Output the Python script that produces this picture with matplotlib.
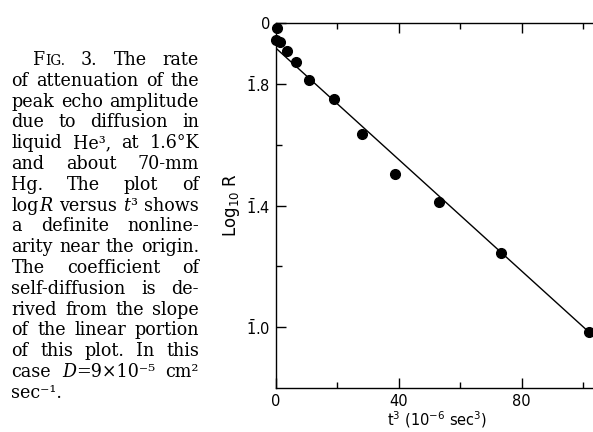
import re
import matplotlib
matplotlib.use("Agg")
import matplotlib.pyplot as plt

# ---------------- data ----------------
t3 = [0.4, 0.0, 1.4, 3.6, 6.6, 10.8, 18.9, 28.0, 38.8, 53.1, 73.2, 102.0]
log_r = [-0.016, -0.057, -0.062, -0.093, -0.129, -0.189, -0.249, -0.366,
         -0.495, -0.589, -0.757, -1.017]
fit_t3 = [0.0, 102.0]
fit_log_r = [-0.082, -1.017]

y_ticks = [0.0, -0.2, -0.6, -1.0]
y_tick_labels = ["0", r"$\bar{1}$.8", r"$\bar{1}$.4", r"$\bar{1}$.0"]
y_minor = [-0.4, -0.8]
x_ticks = [0, 40, 80]
x_tick_labels = ["0", "40", "80"]
x_minor = [20, 60, 100]

x_label = r"t$^3$ (10$^{-6}$ sec$^3$)"
y_label = r"Log$_{10}$ R"

caption = [
    "F{sc:IG.} 3. The rate",
    "of attenuation of the",
    "peak echo amplitude",
    "due to diffusion in",
    "liquid He³, at 1.6°K",
    "and about 70-mm",
    "Hg. The plot of",
    "log{i:R} versus {i:t}³ shows",
    "a definite nonline-",
    "arity near the origin.",
    "The coefficient of",
    "self-diffusion is de-",
    "rived from the slope",
    "of the linear portion",
    "of this plot. In this",
    "case {i:D}=9×10⁻⁵ cm²",
    "sec⁻¹.",
]

# ---------------- figure ----------------
W, H = 593, 432
plt.rcParams["mathtext.default"] = "regular"
plt.rcParams["font.family"] = ["DejaVu Sans"]
fig = plt.figure(figsize=(W / 100, H / 100), dpi=100)

ax_l, ax_r, ax_t, ax_b = 275.7, 596.0, 23.0, 388.0
ax = fig.add_axes([ax_l / W, 1 - ax_b / H, (ax_r - ax_l) / W, (ax_b - ax_t) / H])

ax.plot(fit_t3, fit_log_r, color="black", lw=1.0, zorder=2)
ax.plot(t3, log_r, "o", color="black", ms=7.0, zorder=3, clip_on=False)

ax.set_xlim(0, 104.2)
ax.set_ylim(-1.2, 0.0)
ax.set_xticks(x_ticks)
ax.set_xticklabels(x_tick_labels)
ax.set_xticks(x_minor, minor=True)
ax.set_yticks(y_ticks)
ax.set_yticklabels(y_tick_labels)
ax.set_yticks(y_minor, minor=True)
ax.tick_params(which="both", direction="in", top=True, right=False,
               labelsize=10.5, width=1.0)
ax.tick_params(which="major", length=7.5, pad=4)
ax.tick_params(which="minor", length=4)
for s in ax.spines.values():
    s.set_linewidth(1.0)

ax.set_xlabel(x_label, fontsize=10.5)
ax.xaxis.set_label_coords((437 - ax_l) / (ax_r - ax_l), (ax_b - 420) / (ax_b - ax_t))
ax.xaxis.label.set_va("center")
ax.set_ylabel(y_label, fontsize=12)
ax.yaxis.set_label_coords((231 - ax_l) / (ax_r - ax_l), 0.5)
ax.yaxis.label.set_va("center")

# ---------------- justified caption ----------------
serif = ["DejaVu Serif", "DejaVu Sans"]
x_left, x_right, x_indent = 11.5, 199.0, 33.0
y0, dy = 65.0, 20.8
renderer = fig.canvas.get_renderer()

pat = re.compile(r"\{(sc|i):([^}]*)\}")


def parse_word(word):
    segs, pos = [], 0
    for m in pat.finditer(word):
        if m.start() > pos:
            segs.append((word[pos:m.start()], ""))
        segs.append((m.group(2), m.group(1)))
        pos = m.end()
    if pos < len(word):
        segs.append((word[pos:], ""))
    return segs


def make_seg(text, kind, size):
    kw = dict(family=serif, fontsize=size, va="baseline", ha="left")
    if kind == "sc":
        kw["fontsize"] = size * 0.78
    if kind == "i":
        kw["style"] = "italic"
    return fig.text(0, 0, text, **kw)


def width_of(art):
    return art.get_window_extent(renderer).width


def space_width(size):
    a = fig.text(0, 0, "a a", family=serif, fontsize=size)
    b = fig.text(0, 0, "aa", family=serif, fontsize=size)
    w = width_of(a) - width_of(b)
    a.remove()
    b.remove()
    return w


def build(size):
    lines = []
    for line in caption:
        words = []
        for w in line.split(" "):
            arts = [make_seg(txt, kind, size) for txt, kind in parse_word(w)]
            words.append((arts, [width_of(a) for a in arts]))
        lines.append(words)
    return lines


# measure at a trial size and scale so the widest line fits the column
trial = 10.0
sw = space_width(trial)
lines = build(trial)
ratio = 0.0
for i, words in enumerate(lines[:-1]):
    start = x_indent if i == 0 else x_left
    nat = sum(sum(ws) for _, ws in words) + sw * (len(words) - 1)
    ratio = max(ratio, nat / (x_right - start))
for words in lines:
    for arts, _ in words:
        for a in arts:
            a.remove()

cap_size = trial / ratio * 0.995
sw = space_width(cap_size)
lines = build(cap_size)

for i, words in enumerate(lines):
    start = x_indent if i == 0 else x_left
    total = sum(sum(ws) for _, ws in words)
    last = i == len(lines) - 1
    if len(words) > 1 and not last:
        gap = (x_right - start - total) / (len(words) - 1)
    else:
        gap = sw
    x = start
    yb = 1 - (y0 + i * dy) / H
    for arts, widths in words:
        for a, wdt in zip(arts, widths):
            a.set_position((x / W, yb))
            x += wdt
        x += gap

fig.savefig("out.png", dpi=100)
